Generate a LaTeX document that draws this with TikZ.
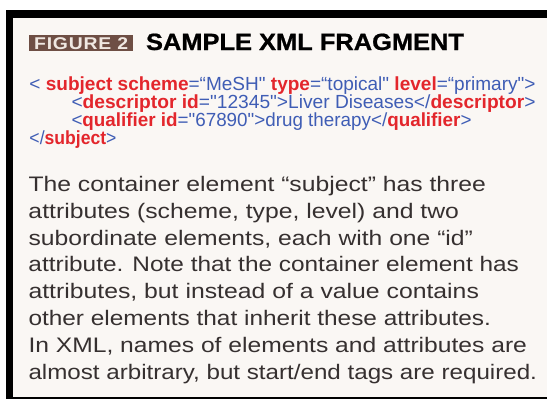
\documentclass[tikz,border=0pt]{standalone}
\usepackage{fontspec}
\setmainfont{Liberation Sans}
\usepackage{graphicx}
\newfontfamily\heavyfont[FakeBold=0.8]{Liberation Sans Bold}
\newfontfamily\figfont[LetterSpace=4]{Liberation Sans Bold}
\definecolor{paper}{HTML}{FAF7F4}
\definecolor{xmlred}{HTML}{E3262C}
\definecolor{xmlblue}{HTML}{3F5DB5}
\definecolor{bodygray}{HTML}{363030}
\definecolor{figbrown}{HTML}{6E4E44}
\definecolor{figtext}{HTML}{F0E8E2}
\newlength\fitlen
\newcommand\fitto[2]{\settowidth\fitlen{#2}\pgfmathsetmacro\fitfac{#1/\fitlen}\scalebox{\fitfac}[1]{#2}}
\newcommand\xr[1]{{\color{xmlred}\bfseries #1}}
\newcommand\xb[1]{{\color{xmlblue}#1}}
\newcommand\qd{\textquotedbl}
\newcommand\codefont{\fontsize{19}{19}\selectfont}
\newcommand\parafont{\fontsize{21}{21}\selectfont\color{bodygray}}
\newcommand\codeA{\xb{<} \xr{subject scheme}\xb{=“MeSH\qd} \xr{type}\xb{=“topical\qd} \xr{level}\xb{=“primary\qd>}}
\newcommand\codeB{\xb{<}\xr{descriptor id}\xb{=\qd12345\qd>Liver Diseases</}\xr{descriptor}\xb{>}}
\newcommand\codeC{\xb{<}\xr{qualifier id}\xb{=\qd67890\qd>drug therapy</}\xr{qualifier}\xb{>}}
\newcommand\codeD{\xb{</}\xr{subject}\xb{>}}
\tikzset{
  txt/.style={anchor=base west, inner sep=0pt, outer sep=0pt},
}
\begin{document}
\begin{tikzpicture}[x=1pt,y=-1pt]
\useasboundingbox (0,0) rectangle (547,399);
\fill[white] (0,0) rectangle (547,399);
\fill[paper] (8,10) rectangle (547,399);
\fill[black] (8,10) rectangle (547,18);
\fill[black] (6,10) rectangle (13,399);
\fill[black] (6,397) rectangle (547,399);
% figure label
\node[fill=figbrown, anchor=north west, minimum width=104pt, minimum height=16pt, inner sep=0pt] (figbox) at (29,35) {};
\node[anchor=base, inner sep=0pt, text=figtext] (figlabel) at ([yshift=-6pt]figbox.center) {\fitto{94}{\figfont\fontsize{17}{17}\selectfont FIGURE 2}};
\node[txt] (title) at (146,50) {\fitto{318}{\heavyfont\fontsize{23.5}{23.5}\selectfont SAMPLE XML FRAGMENT}};
% code
\node[txt] (c1) at (29.5,90.5) {\fitto{506}{\codefont\codeA}};
\node[txt] (c2) at (71.5,108.5) {\fitto{464}{\codefont\codeB}};
\node[txt] (c3) at (71.5,126.5) {\fitto{400}{\codefont\codeC}};
\node[txt] (c4) at (29.5,144.5) {\fitto{87}{\codefont\codeD}};
% paragraph
\node[txt] (p1) at (28.5,191.5) {\fitto{457.5}{\parafont The container element “subject” has three}};
\node[txt] (p2) at (28.5,218.3) {\fitto{430.5}{\parafont attributes (scheme, type, level) and two}};
\node[txt] (p3) at (28.5,245.1) {\fitto{444.5}{\parafont subordinate elements, each with one “id”}};
\node[txt] (p4) at (28.5,271.9) {\fitto{490.5}{\parafont attribute. Note that the container element has}};
\node[txt] (p5) at (28.5,298.7) {\fitto{450.5}{\parafont attributes, but instead of a value contains}};
\node[txt] (p6) at (28.5,325.5) {\fitto{462.5}{\parafont other elements that inherit these attributes.}};
\node[txt] (p7) at (28.5,352.3) {\fitto{498.5}{\parafont In XML, names of elements and attributes are}};
\node[txt] (p8) at (28.5,379.1) {\fitto{508.5}{\parafont almost arbitrary, but start/end tags are required.}};
\end{tikzpicture}
\end{document}
